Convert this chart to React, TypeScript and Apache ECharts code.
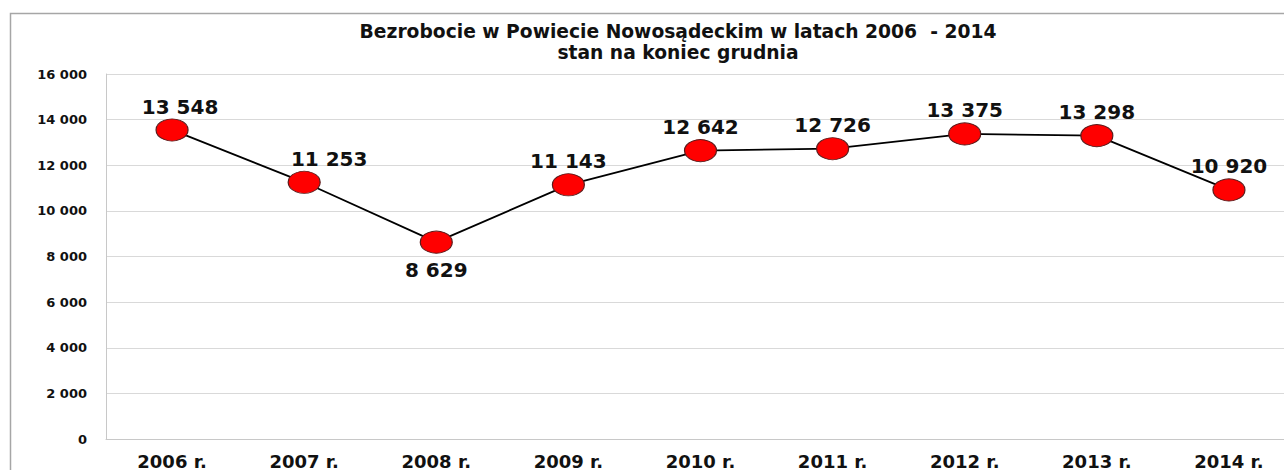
import React, { useEffect, useRef } from "react";
import * as echarts from "echarts";

const categories = ["2006 r.", "2007 r.", "2008 r.", "2009 r.", "2010 r.", "2011 r.", "2012 r.", "2013 r.", "2014 r."];
const values = [13548, 11253, 8629, 11143, 12642, 12726, 13375, 13298, 10920];
const titleLines = ["Bezrobocie w Powiecie Nowosądeckim w latach 2006  - 2014", "stan na koniec grudnia"];
const yMin = 0;
const yMax = 16000;
const yInterval = 2000;

const fmt = (v: number) => String(v).replace(/\B(?=(\d{3})+(?!\d))/g, " ");

const FONT = "DejaVu Sans";

export default function App() {
  const ref = useRef<HTMLDivElement>(null);
  useEffect(() => {
    if (!ref.current) return;
    const chart = echarts.init(ref.current, null, { renderer: "svg" });
    const labelOffsets: Record<number, [number, number]> = { 0: [8, 0], 1: [25, 0] };
    const data = values.map((v, i) => {
      const below = i === 2;
      return {
        value: v,
        label: {
          position: below ? "bottom" : "top",
          distance: below ? 6 : 2,
          offset: labelOffsets[i] || [0, 0],
        },
      };
    });
    chart.setOption({
      animation: false,
      backgroundColor: "#ffffff",
      title: {
        text: titleLines.join("\n"),
        left: 673,
        top: 16,
        textAlign: "center",
        textStyle: {
          fontFamily: FONT,
          fontWeight: "bold",
          fontSize: 18.7,
          lineHeight: 21,
          color: "#111",
        },
      },
      graphic: [
        {
          type: "rect",
          shape: { x: 10.5, y: 13.5, width: 1320, height: 500 },
          style: { fill: "none", stroke: "#a6a6a6", lineWidth: 1.5 },
          silent: true,
        },
      ],
      grid: { left: 106, right: 5, top: 74, height: 366, containLabel: false },
      xAxis: {
        type: "category",
        data: categories,
        boundaryGap: true,
        axisLine: { show: true, lineStyle: { color: "#c8c8c8", width: 1 } },
        axisTick: { show: false },
        axisLabel: {
          fontFamily: FONT,
          fontWeight: "bold",
          fontSize: 18,
          color: "#111",
          margin: 13,
        },
      },
      yAxis: {
        type: "value",
        min: yMin,
        max: yMax,
        interval: yInterval,
        axisLine: { show: true, lineStyle: { color: "#c8c8c8", width: 1 } },
        axisTick: { show: false },
        splitLine: { show: true, lineStyle: { color: "#d9d9d9", width: 1 } },
        axisLabel: {
          fontFamily: FONT,
          fontWeight: "bold",
          fontSize: 13,
          color: "#111",
          margin: 19,
          formatter: (v: number) => fmt(v),
        },
      },
      series: [
        {
          type: "line",
          data,
          symbol: "circle",
          symbolSize: [32, 22],
          lineStyle: { color: "#000", width: 1.8 },
          itemStyle: { color: "#ff0000", borderColor: "#5a1a1a", borderWidth: 1 },
          label: {
            show: true,
            fontFamily: FONT,
            fontWeight: "bold",
            fontSize: 20,
            color: "#111",
            formatter: (p: any) => fmt(p.value),
          },
        },
      ],
    });
    return () => chart.dispose();
  }, []);
  return (
    <div style={{ position: "absolute", left: 0, top: 0, width: 1284, height: 470, overflow: "hidden" }}>
      <div ref={ref} style={{ width: 1300, height: 470 }} />
    </div>
  );
}
